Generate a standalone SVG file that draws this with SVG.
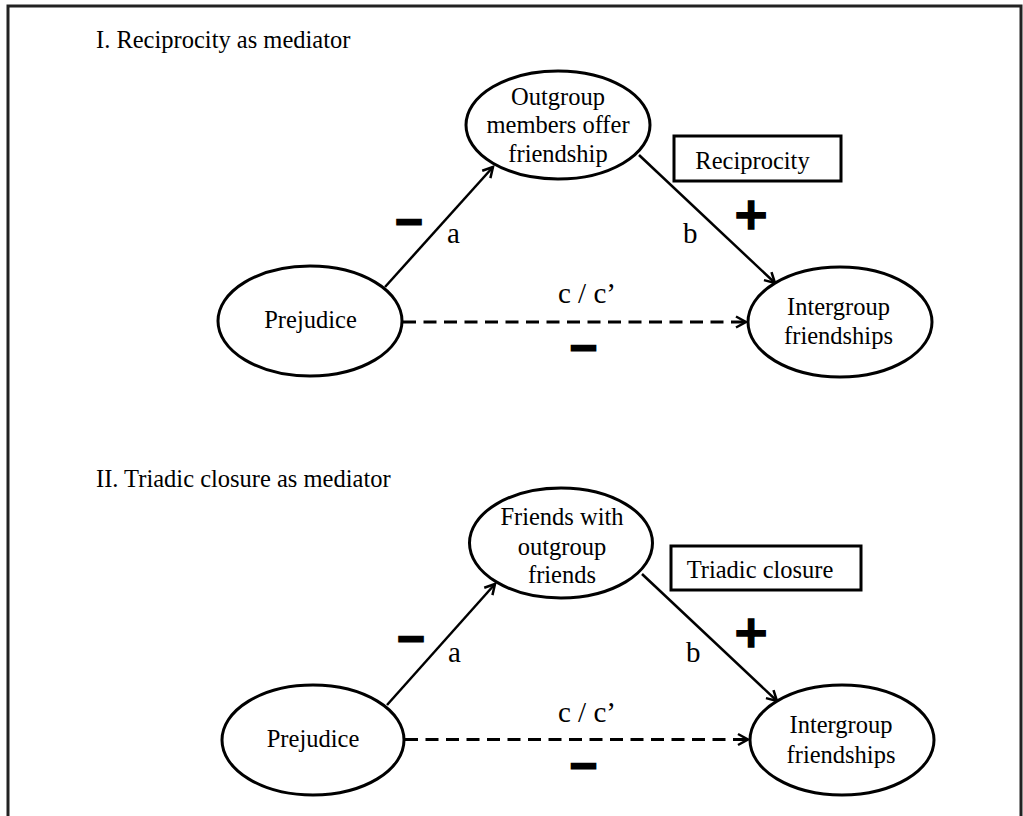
<svg xmlns="http://www.w3.org/2000/svg" width="1023" height="816" viewBox="0 0 1023 816">
<style>
.t{font-family:"Liberation Serif","Times New Roman",serif;font-size:24.5px;fill:#000}
.c{text-anchor:middle}
.lbl{font-family:"Liberation Serif","Times New Roman",serif;font-size:29px;fill:#000}
.node{fill:#fff;stroke:#000;stroke-width:3}
.box{fill:#fff;stroke:#000;stroke-width:3}
.ln{stroke:#000;stroke-width:2.5;fill:none}
.dash{stroke:#000;stroke-width:3;fill:none;stroke-dasharray:13 7.5}
.sgn{font-family:"DejaVu Sans",sans-serif;font-weight:bold;fill:#000;stroke:#000;text-anchor:middle}
</style>
<defs>
<marker id="arr" markerUnits="userSpaceOnUse" markerWidth="16" markerHeight="16" viewBox="-12 -8 14 16" refX="0" refY="0" orient="auto">
<path d="M-10,-5.5 L0,0 L-10,5.5" fill="none" stroke="#000" stroke-width="2.5"/>
</marker>
</defs>
<rect width="1023" height="816" fill="#fff"/>
<path d="M8,820 V6 H1021 V820" fill="none" stroke="#222" stroke-width="3"/>

<text class="t" x="96" y="48">I. Reciprocity as mediator</text>
<text class="t" x="96" y="487">II. Triadic closure as mediator</text>

<g id="connectors">
<line class="ln" x1="385" y1="287" x2="493" y2="167" marker-end="url(#arr)"/>
<line class="ln" x1="639" y1="155" x2="775" y2="283" marker-end="url(#arr)"/>
<line class="dash" x1="403" y1="322" x2="746" y2="322" marker-end="url(#arr)"/>
<line class="ln" x1="387" y1="705" x2="495" y2="584" marker-end="url(#arr)"/>
<line class="ln" x1="642" y1="574" x2="777" y2="701" marker-end="url(#arr)"/>
<line class="dash" x1="405" y1="739.5" x2="748" y2="739.5" marker-end="url(#arr)"/>
</g>

<g id="labels">
<text class="sgn" x="409" y="233.5" font-size="37" stroke-width="2.5">−</text>
<text class="lbl" x="447" y="243">a</text>
<text class="lbl" x="683" y="243">b</text>
<text class="sgn" x="751" y="229" font-size="45" stroke-width="1.5">+</text>
<text class="lbl" x="558" y="303">c / c’</text>
<text class="sgn" x="583.5" y="359.5" font-size="37" stroke-width="2.5">−</text>

<text class="sgn" x="411" y="651" font-size="37" stroke-width="2.5">−</text>
<text class="lbl" x="448" y="662">a</text>
<text class="lbl" x="686" y="662">b</text>
<text class="sgn" x="751" y="647" font-size="45" stroke-width="1.5">+</text>
<text class="lbl" x="558" y="722">c / c’</text>
<text class="sgn" x="583.5" y="778" font-size="37" stroke-width="2.5">−</text>
</g>

<g id="n1-outgroup">
<ellipse class="node" cx="558" cy="125" rx="92" ry="54"/>
<text class="t c" x="558" y="105">Outgroup</text>
<text class="t c" x="558" y="133">members offer</text>
<text class="t c" x="558" y="162">friendship</text>
</g>
<g id="n1-prejudice">
<ellipse class="node" cx="310" cy="321" rx="92" ry="55"/>
<text class="t c" x="310.5" y="328">Prejudice</text>
</g>
<g id="n1-intergroup">
<ellipse class="node" cx="840" cy="322" rx="92" ry="55"/>
<text class="t c" x="838.5" y="315">Intergroup</text>
<text class="t c" x="838.5" y="344">friendships</text>
</g>
<g id="n1-reciprocity">
<rect class="box" x="674" y="136" width="167" height="45"/>
<text class="t c" x="752.5" y="169">Reciprocity</text>
</g>

<g id="n2-friends">
<ellipse class="node" cx="561" cy="543" rx="91.5" ry="55"/>
<text class="t c" x="562" y="525">Friends with</text>
<text class="t c" x="562" y="555">outgroup</text>
<text class="t c" x="562" y="583">friends</text>
</g>
<g id="n2-prejudice">
<ellipse class="node" cx="313" cy="740" rx="91" ry="55"/>
<text class="t c" x="313" y="747">Prejudice</text>
</g>
<g id="n2-intergroup">
<ellipse class="node" cx="842" cy="740" rx="92" ry="55"/>
<text class="t c" x="841" y="733">Intergroup</text>
<text class="t c" x="841" y="763">friendships</text>
</g>
<g id="n2-triadic">
<rect class="box" x="671" y="546" width="190" height="44"/>
<text class="t c" x="760" y="578">Triadic closure</text>
</g>
</svg>
